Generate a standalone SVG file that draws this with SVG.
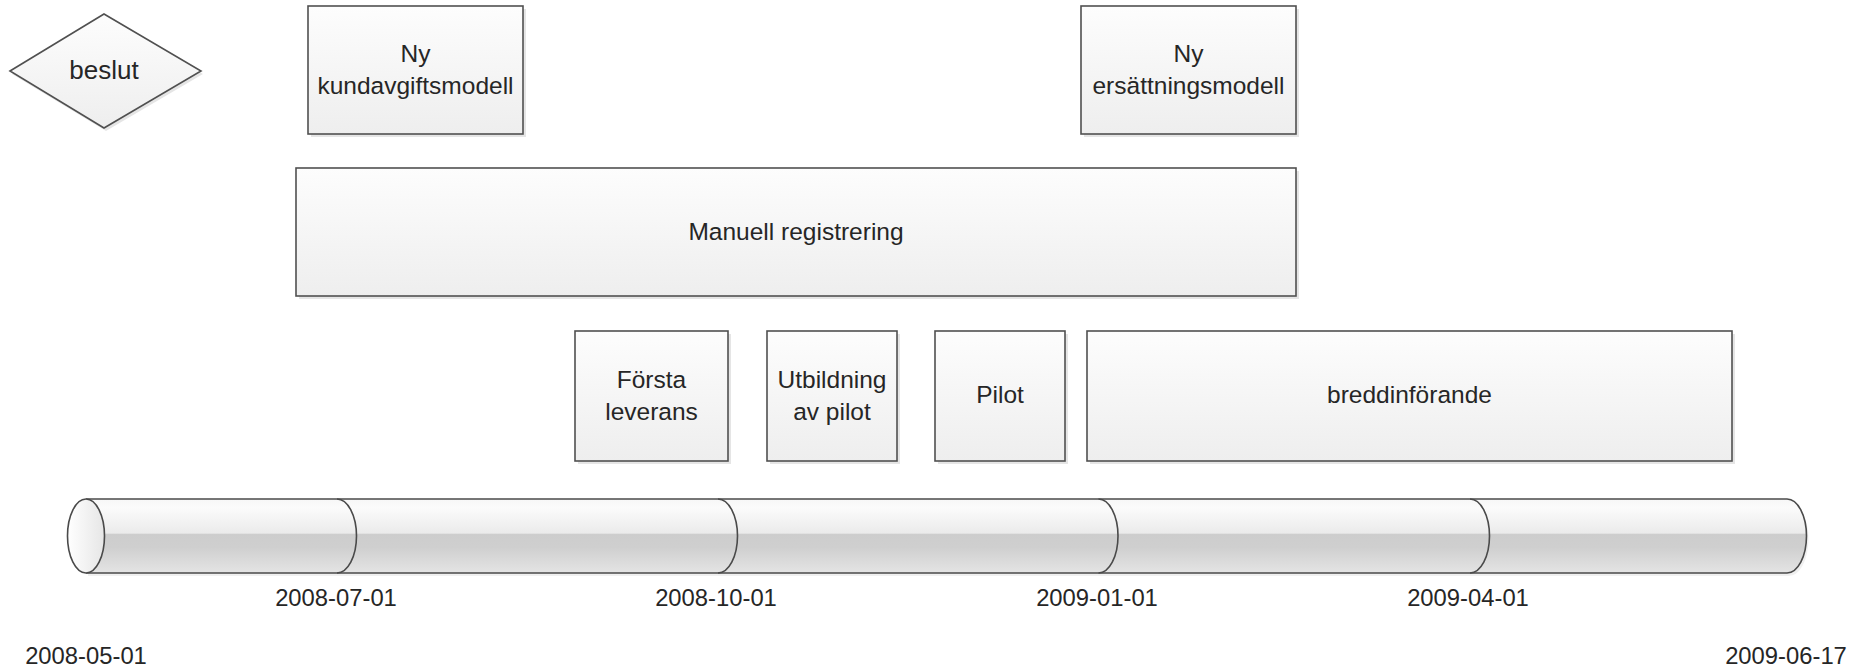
<svg xmlns="http://www.w3.org/2000/svg" width="1862" height="669" viewBox="0 0 1862 669">
  <defs>
    <linearGradient id="boxFill" x1="0" y1="0" x2="0" y2="1">
      <stop offset="0" stop-color="#fdfdfd"/>
      <stop offset="1" stop-color="#eeeeee"/>
    </linearGradient>
    <linearGradient id="tubeFill" x1="0" y1="0" x2="0" y2="1">
      <stop offset="0" stop-color="#f7f7f7"/>
      <stop offset="0.12" stop-color="#fbfbfb"/>
      <stop offset="0.46" stop-color="#ebebeb"/>
      <stop offset="0.48" stop-color="#cdcdcd"/>
      <stop offset="0.65" stop-color="#cfcfcf"/>
      <stop offset="1" stop-color="#e4e4e4"/>
    </linearGradient>
    <linearGradient id="capFill" x1="0" y1="0" x2="1" y2="0">
      <stop offset="0" stop-color="#ffffff"/>
      <stop offset="1" stop-color="#e6e6e6"/>
    </linearGradient>
  </defs>
  <style>
    .box { fill: url(#boxFill); stroke: #505050; stroke-width: 1.6; }
    .shadow { fill: #000000; opacity: 0.10; }
    .lbl { font-family: "Liberation Sans", Arial, sans-serif; font-size: 24.5px; fill: #262626; text-anchor: middle; }
    .date { font-family: "Liberation Sans", Arial, sans-serif; font-size: 23.8px; fill: #262626; text-anchor: middle; }
    .edge { fill: none; stroke: #4a4a4a; stroke-width: 1.6; }
  </style>

  <g id="beslut">
    <polygon class="shadow" points="12,74 106,17 203,74 106,131"/>
    <polygon class="box" points="10,71 104,14 201,71 104,128"/>
    <text class="lbl" x="104" y="79" style="font-size:26px">beslut</text>
  </g>

  <g id="ny-kundavgiftsmodell">
    <rect class="shadow" x="311" y="9" width="215" height="128"/>
    <rect class="box" x="308" y="6" width="215" height="128"/>
    <text class="lbl" x="415.5" y="62">Ny</text>
    <text class="lbl" x="415.5" y="93.5">kundavgiftsmodell</text>
  </g>

  <g id="ny-ersattningsmodell">
    <rect class="shadow" x="1084" y="9" width="215" height="128"/>
    <rect class="box" x="1081" y="6" width="215" height="128"/>
    <text class="lbl" x="1188.5" y="62">Ny</text>
    <text class="lbl" x="1188.5" y="93.5">ersättningsmodell</text>
  </g>

  <g id="manuell-registrering">
    <rect class="shadow" x="299" y="171" width="1000" height="128"/>
    <rect class="box" x="296" y="168" width="1000" height="128"/>
    <text class="lbl" x="796" y="240">Manuell registrering</text>
  </g>

  <g id="forsta-leverans">
    <rect class="shadow" x="578" y="334" width="153" height="130"/>
    <rect class="box" x="575" y="331" width="153" height="130"/>
    <text class="lbl" x="651.5" y="388">Första</text>
    <text class="lbl" x="651.5" y="420">leverans</text>
  </g>

  <g id="utbildning-av-pilot">
    <rect class="shadow" x="770" y="334" width="130" height="130"/>
    <rect class="box" x="767" y="331" width="130" height="130"/>
    <text class="lbl" x="832" y="388">Utbildning</text>
    <text class="lbl" x="832" y="420">av pilot</text>
  </g>

  <g id="pilot">
    <rect class="shadow" x="938" y="334" width="130" height="130"/>
    <rect class="box" x="935" y="331" width="130" height="130"/>
    <text class="lbl" x="1000" y="403">Pilot</text>
  </g>

  <g id="breddinforande">
    <rect class="shadow" x="1090" y="334" width="645" height="130"/>
    <rect class="box" x="1087" y="331" width="645" height="130"/>
    <text class="lbl" x="1409.5" y="403">breddinförande</text>
  </g>

  <g id="timeline">
    <path d="M88,502 H1789 A19.5,37 0 0 1 1789,576 H88 Z" class="shadow" style="opacity:0.06"/>
    <path d="M86,499 H1787 A19.5,37 0 0 1 1787,573 H86 Z" fill="url(#tubeFill)"/>
    <line class="edge" x1="86" y1="499" x2="1787" y2="499"/>
    <line class="edge" x1="86" y1="573" x2="1787" y2="573"/>
    <path class="edge" d="M337,499 A19.5,37 0 0 1 337,573"/>
    <path class="edge" d="M718,499 A19.5,37 0 0 1 718,573"/>
    <path class="edge" d="M1098.5,499 A19.5,37 0 0 1 1098.5,573"/>
    <path class="edge" d="M1470,499 A19.5,37 0 0 1 1470,573"/>
    <path class="edge" d="M1787,499 A19.5,37 0 0 1 1787,573"/>
    <ellipse cx="86" cy="536" rx="18.5" ry="37" fill="url(#capFill)" stroke="#4a4a4a" stroke-width="1.6"/>
  </g>

  <g id="connectors"></g>

  <g id="dates">
    <text class="date" x="86" y="664">2008-05-01</text>
    <text class="date" x="336" y="606">2008-07-01</text>
    <text class="date" x="716" y="606">2008-10-01</text>
    <text class="date" x="1097" y="606">2009-01-01</text>
    <text class="date" x="1468" y="606">2009-04-01</text>
    <text class="date" x="1786" y="664">2009-06-17</text>
  </g>
</svg>
